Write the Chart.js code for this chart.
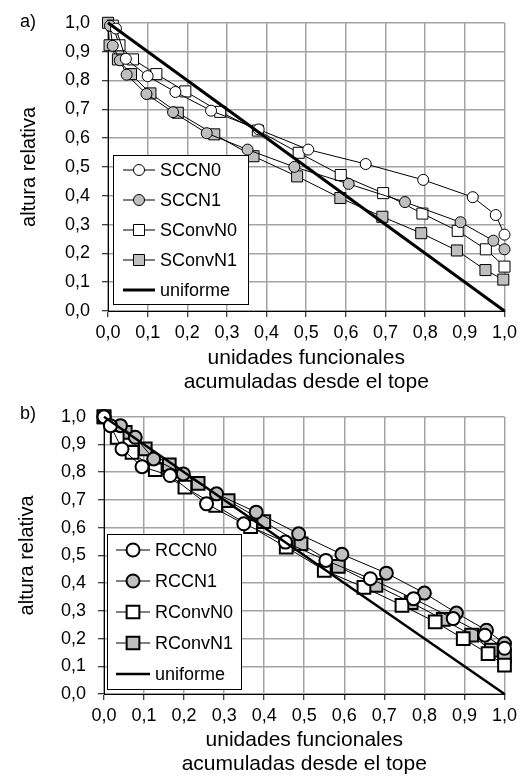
<!DOCTYPE html>
<html><head><meta charset="utf-8">
<script src="https://cdn.jsdelivr.net/npm/chart.js@4.4.0/dist/chart.umd.min.js"></script>
<style>
html,body{margin:0;padding:0;background:#fff;width:522px;height:776px;overflow:hidden}
canvas{position:absolute;left:0;display:block}
</style></head><body>
<canvas id="ca" width="522" height="394" style="top:0"></canvas>
<canvas id="cb" width="522" height="382" style="top:394px"></canvas>
<script>
// ---------- shared text ----------
const xTitle = ['unidades funcionales', 'acumuladas desde el tope'];
const yTitle = 'altura relativa';
const panelLabels = ['a)', 'b)'];
const uniformX = [0, 1];
const uniformY = [1, 0];

// ---------- panel a ----------
const namesA = ['SCCN0', 'SCCN1', 'SConvN0', 'SConvN1', 'uniforme'];
const SCCN0_x = [0.02, 0.045, 0.10, 0.17, 0.26, 0.38, 0.505, 0.65, 0.795, 0.92, 0.978, 1.00];
const SCCN0_y = [0.98, 0.875, 0.815, 0.76, 0.695, 0.63, 0.56, 0.51, 0.455, 0.395, 0.333, 0.265];
const SCCN1_x = [0.005, 0.012, 0.03, 0.047, 0.097, 0.164, 0.249, 0.352, 0.47, 0.607, 0.749, 0.889, 0.972, 1.00];
const SCCN1_y = [0.99, 0.92, 0.87, 0.82, 0.753, 0.69, 0.617, 0.56, 0.50, 0.441, 0.378, 0.308, 0.244, 0.214];
const SConvN0_x = [0.012, 0.029, 0.063, 0.122, 0.195, 0.283, 0.378, 0.481, 0.587, 0.694, 0.793, 0.882, 0.953, 1.00];
const SConvN0_y = [0.99, 0.922, 0.873, 0.822, 0.762, 0.691, 0.626, 0.549, 0.472, 0.409, 0.338, 0.278, 0.214, 0.154];
const SConvN1_x = [0.00, 0.004, 0.025, 0.058, 0.107, 0.176, 0.268, 0.367, 0.477, 0.586, 0.692, 0.790, 0.880, 0.952, 0.997];
const SConvN1_y = [1.00, 0.922, 0.873, 0.822, 0.755, 0.688, 0.613, 0.537, 0.467, 0.392, 0.327, 0.270, 0.210, 0.142, 0.109];

// ---------- panel b ----------
const namesB = ['RCCN0', 'RCCN1', 'RConvN0', 'RConvN1', 'uniforme'];
const RCCN0_x = [0.00, 0.016, 0.045, 0.095, 0.165, 0.256, 0.349, 0.453, 0.554, 0.665, 0.773, 0.872, 0.951, 1.00];
const RCCN0_y = [1.00, 0.968, 0.884, 0.820, 0.788, 0.686, 0.614, 0.548, 0.482, 0.416, 0.344, 0.272, 0.212, 0.165];
const RCCN1_x = [0.00, 0.041, 0.078, 0.124, 0.198, 0.281, 0.380, 0.486, 0.594, 0.705, 0.800, 0.880, 0.955, 1.00];
const RCCN1_y = [1.00, 0.968, 0.926, 0.848, 0.794, 0.722, 0.656, 0.578, 0.504, 0.436, 0.364, 0.292, 0.230, 0.182];
const RConvN0_x = [0.00, 0.033, 0.070, 0.128, 0.202, 0.279, 0.366, 0.455, 0.550, 0.649, 0.744, 0.827, 0.897, 0.959, 1.00];
const RConvN0_y = [1.00, 0.926, 0.872, 0.809, 0.746, 0.680, 0.604, 0.530, 0.446, 0.385, 0.320, 0.260, 0.200, 0.146, 0.104];
const RConvN1_x = [0.00, 0.053, 0.103, 0.163, 0.235, 0.310, 0.399, 0.492, 0.585, 0.679, 0.767, 0.847, 0.918, 0.967, 1.00];
const RConvN1_y = [1.00, 0.944, 0.884, 0.827, 0.760, 0.698, 0.622, 0.542, 0.460, 0.392, 0.330, 0.269, 0.212, 0.158, 0.137];

// ---------- helpers ----------
const FONT = "'Liberation Sans', Arial, sans-serif";
const GRAY = '#bfbfbf';
const pts = (xs, ys) => xs.map((x, i) => ({x, y: ys[i]}));
const fmt = v => (Math.round(v * 10) / 10).toFixed(1).replace('.', ',');

function series(label, xs, ys, style, fill, r, bw) {
  return {
    label, data: pts(xs, ys), showLine: true, borderColor: '#000', borderWidth: 1,
    pointStyle: style, pointRadius: r, pointHoverRadius: r, pointBackgroundColor: fill,
    pointBorderColor: '#000', pointBorderWidth: bw, clip: false, order: 1
  };
}
function uniform(label, w) {
  return {label, data: pts(uniformX, uniformY), showLine: true, borderColor: '#000',
    borderWidth: w, pointRadius: 0, clip: false, order: 0};
}

function legendPlugin(cfg) {
  return {
    id: 'boxLegend',
    afterDraw(chart) {
      const ctx = chart.ctx;
      ctx.save();
      ctx.fillStyle = '#000';
      ctx.font = '18px ' + FONT;
      ctx.textAlign = 'center';
      ctx.textBaseline = 'middle';
      ctx.fillText(cfg.panel, cfg.panelX, cfg.panelY);
      ctx.fillStyle = '#fff';
      ctx.fillRect(cfg.x0, cfg.y0, cfg.x1 - cfg.x0, cfg.y1 - cfg.y0);
      ctx.strokeStyle = '#000';
      ctx.lineWidth = 1;
      ctx.strokeRect(cfg.x0 + 0.5, cfg.y0 + 0.5, cfg.x1 - cfg.x0, cfg.y1 - cfg.y0);
      chart.data.datasets.forEach((ds, i) => {
        const y = cfg.rowY0 + i * cfg.rowStep;
        ctx.strokeStyle = '#000';
        ctx.lineWidth = ds.borderWidth;
        ctx.beginPath();
        ctx.moveTo(cfg.lx0, y); ctx.lineTo(cfg.lx1, y); ctx.stroke();
        if (ds.pointRadius > 0) {
          const mx = (cfg.lx0 + cfg.lx1) / 2, r = ds.pointRadius;
          ctx.fillStyle = ds.pointBackgroundColor;
          ctx.lineWidth = ds.pointBorderWidth;
          ctx.beginPath();
          if (ds.pointStyle === 'circle') ctx.arc(mx, y, r, 0, Math.PI * 2);
          else { const s = r * Math.SQRT1_2; ctx.rect(mx - s, y - s, 2 * s, 2 * s); }
          ctx.fill(); ctx.stroke();
        }
        ctx.fillStyle = '#000';
        ctx.font = '18px ' + FONT;
        ctx.textAlign = 'left';
        ctx.textBaseline = 'middle';
        ctx.fillText(ds.label, cfg.tx, y + 1);
      });
      ctx.restore();
    }
  };
}

function makeChart(id, datasets, g, leg) {
  const axisCommon = {
    type: 'linear', min: 0, max: 1,
    grid: {color: '#a3a3a3', lineWidth: 1.5, drawTicks: true, tickLength: 6, tickColor: '#000', tickWidth: 1},
    border: {color: '#000', width: 1},
  };
  return new Chart(document.getElementById(id), {
    type: 'scatter',
    data: {datasets},
    options: {
      responsive: false, animation: false, devicePixelRatio: 1,
      layout: {padding: {left: 0, right: g.padRight, top: g.padTop, bottom: 0}},
      plugins: {legend: {display: false}, tooltip: {enabled: false}},
      scales: {
        x: Object.assign({}, axisCommon, {
          position: 'bottom',
          ticks: {stepSize: 0.1, padding: 5, color: '#000', font: {family: FONT, size: 18}, callback: fmt, maxRotation: 0, autoSkip: false},
          title: {display: true, text: xTitle, color: '#000', font: {family: FONT, size: 21, lineHeight: 1.15}, padding: {top: 0, bottom: 0}},
          afterFit(s) { s.height = g.xH; }
        }),
        y: Object.assign({}, axisCommon, {
          position: 'left',
          ticks: {stepSize: 0.1, padding: g.yPad, color: '#000', font: {family: FONT, size: 18}, callback: fmt, autoSkip: false},
          title: {display: true, text: yTitle, color: '#000', font: {family: FONT, size: 20, lineHeight: 1.2}, padding: {top: g.yTitlePad, bottom: 0}},
          afterFit(s) { s.width = g.yW; }
        })
      }
    },
    plugins: [legendPlugin(leg)]
  });
}

// panel a
makeChart('ca', [
  series(namesA[0], SCCN0_x, SCCN0_y, 'circle', '#fff', 5.5, 1),
  series(namesA[1], SCCN1_x, SCCN1_y, 'circle', GRAY, 5.5, 1),
  series(namesA[2], SConvN0_x, SConvN0_y, 'rect', '#fff', 7.8, 1),
  series(namesA[3], SConvN1_x, SConvN1_y, 'rect', GRAY, 7.8, 1),
  uniform(namesA[4], 3)
], {padRight: 15, padTop: 17, xH: 394 - 311, yW: 108, yPad: 12, yTitlePad: 17},
{panel: panelLabels[0], panelX: 28, panelY: 22, x0: 113, y0: 155, x1: 248, y1: 304,
 rowY0: 170, rowStep: 30, lx0: 123, lx1: 155, tx: 160});

// panel b
makeChart('cb', [
  series(namesB[0], RCCN0_x, RCCN0_y, 'circle', '#fff', 6.5, 2),
  series(namesB[1], RCCN1_x, RCCN1_y, 'circle', GRAY, 6.5, 2),
  series(namesB[2], RConvN0_x, RConvN0_y, 'rect', '#fff', 9, 2),
  series(namesB[3], RConvN1_x, RConvN1_y, 'rect', GRAY, 9, 2),
  uniform(namesB[4], 2.5)
], {padRight: 15.5, padTop: 22, xH: 382 - 300, yW: 104, yPad: 12, yTitlePad: 15},
{panel: panelLabels[1], panelX: 28, panelY: 20, x0: 107, y0: 140, x1: 241, y1: 295,
 rowY0: 156, rowStep: 31, lx0: 116, lx1: 150, tx: 155});
</script>
</body></html>
